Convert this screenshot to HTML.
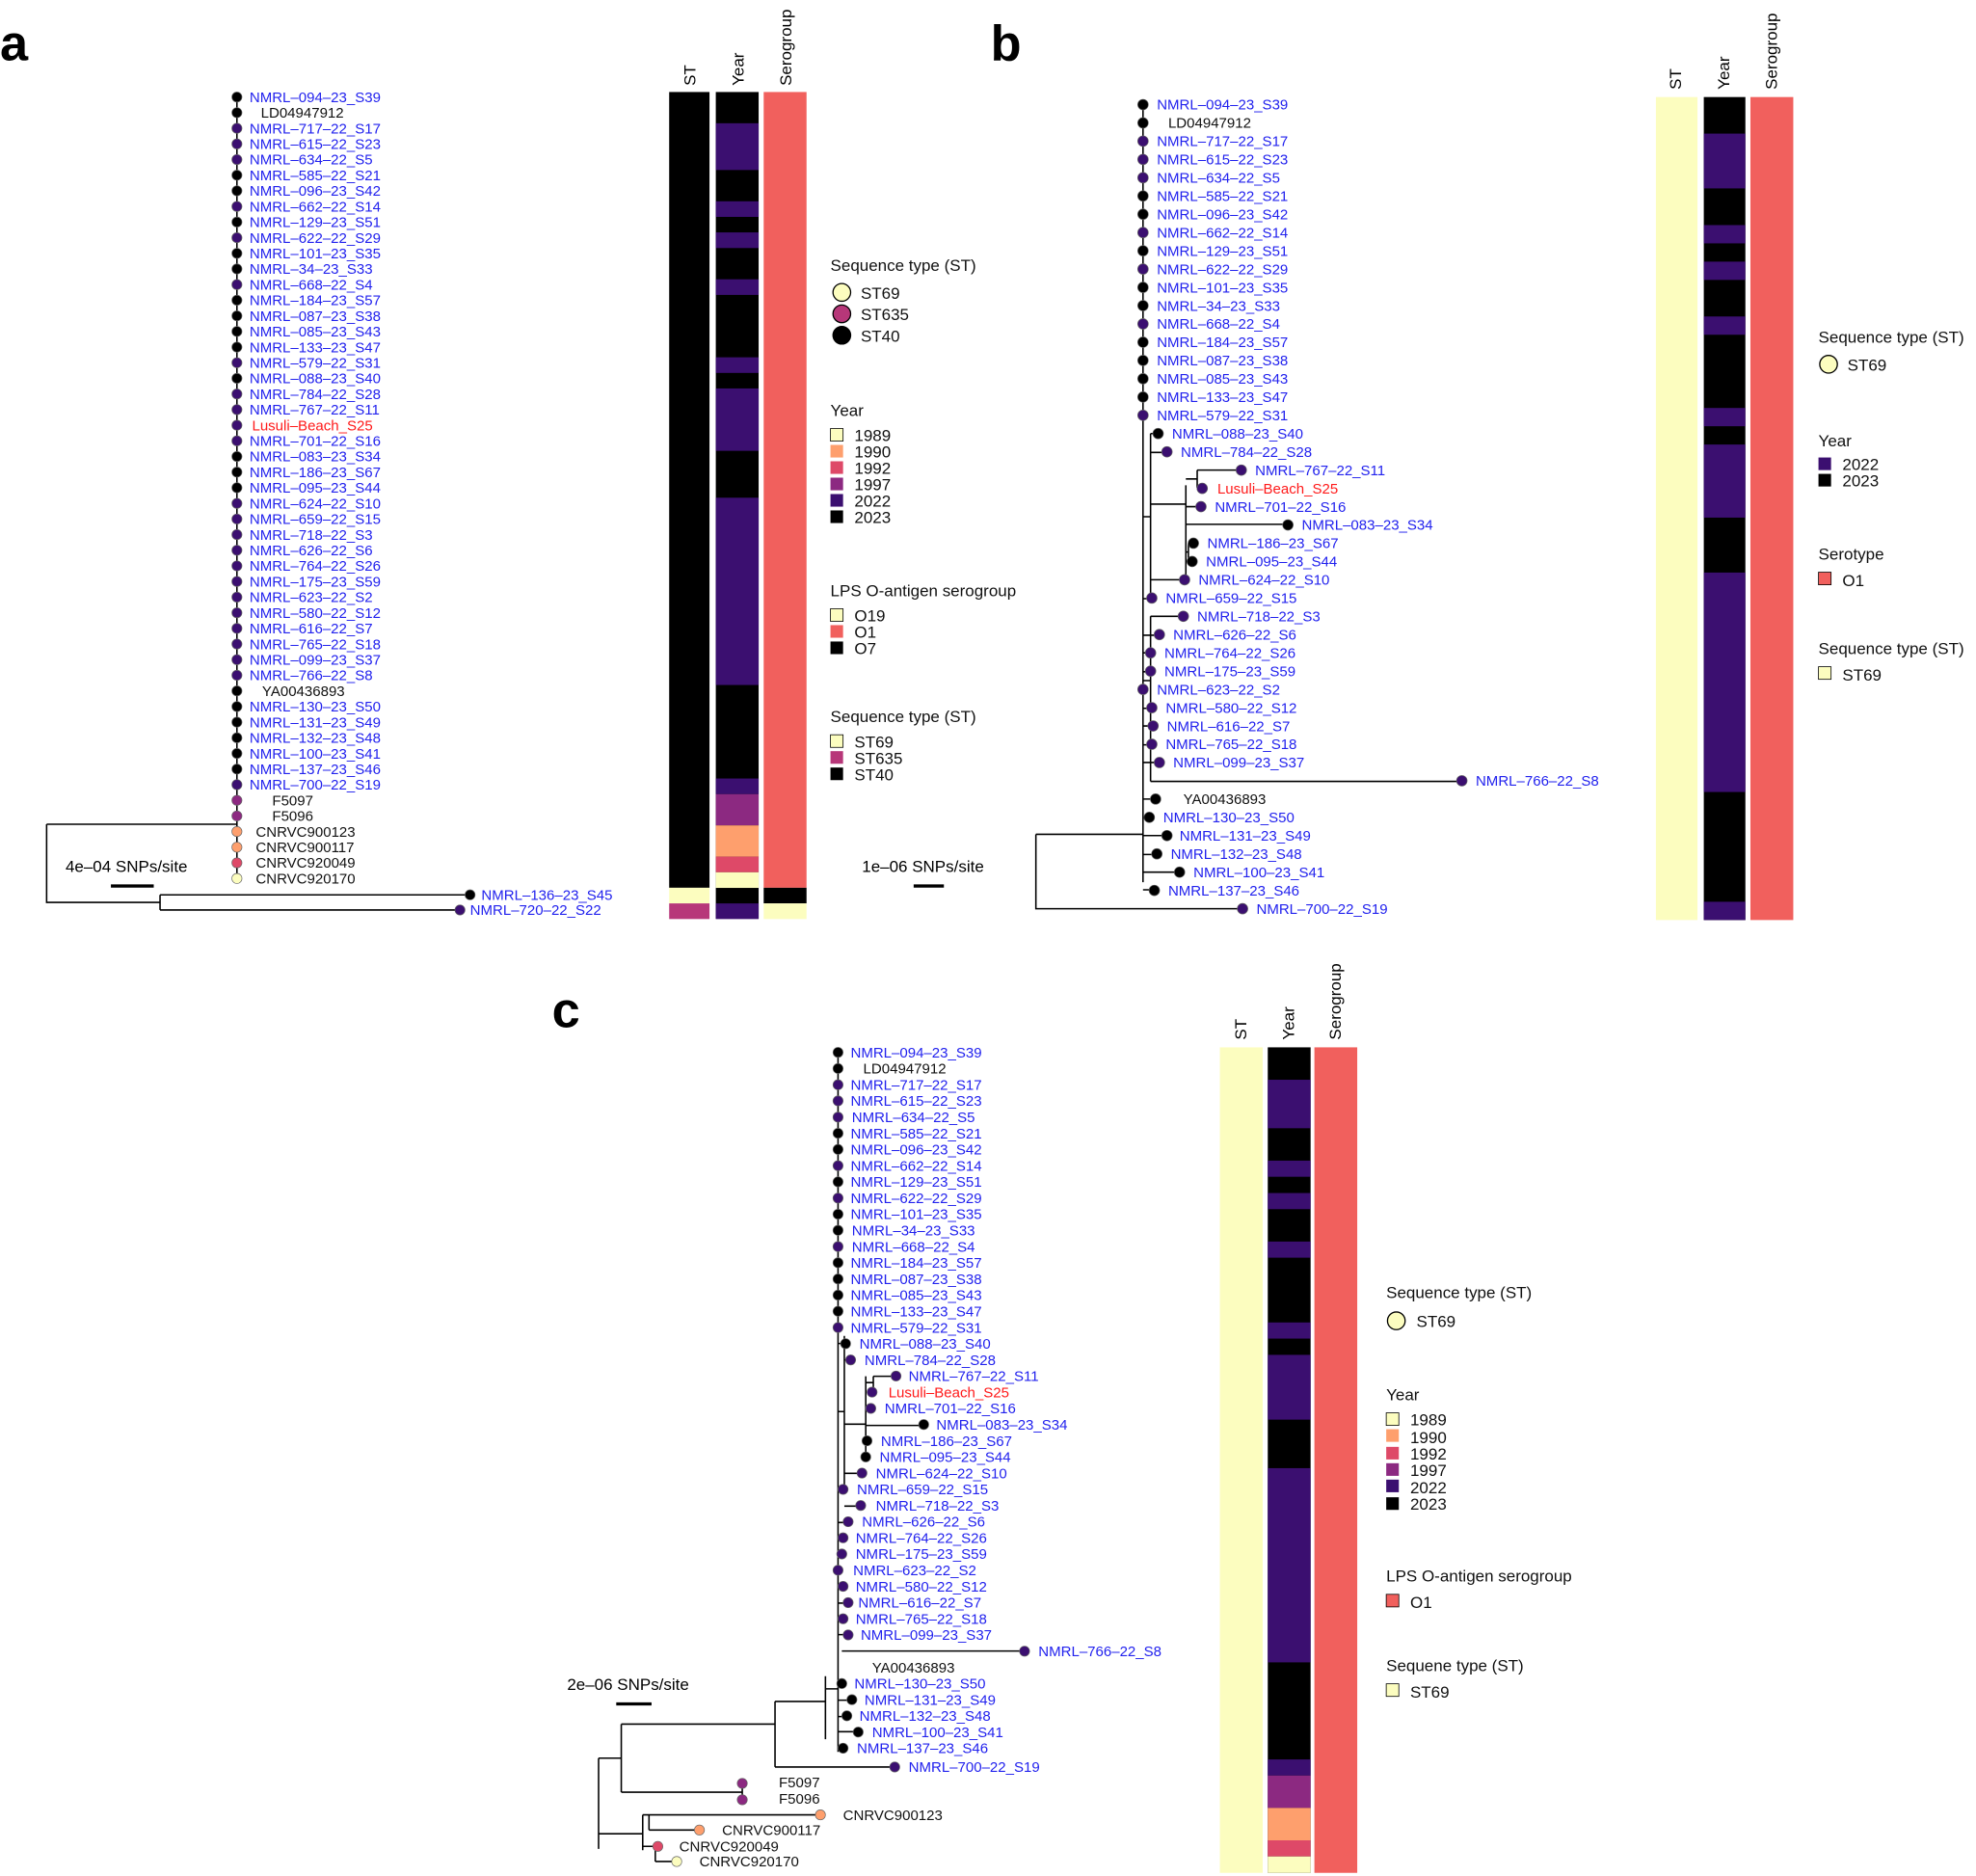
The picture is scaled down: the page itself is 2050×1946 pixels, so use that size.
<!DOCTYPE html>
<html><head><meta charset="utf-8"><style>
html,body{margin:0;padding:0;background:#fff}
svg{display:block}
text{font-family:"Liberation Sans",Arial,sans-serif}
.b{fill:#2222ee}.r{fill:#ff1a1a}.t{fill:#111}
.p{fill:#3b0f70;stroke:#666;stroke-width:.5}.k{fill:#000;stroke:#666;stroke-width:.5}
.m{fill:#8c2981;stroke:#666;stroke-width:.5}.o{fill:#fe9f6d;stroke:#666;stroke-width:.5}
.q{fill:#de4968;stroke:#666;stroke-width:.5}.y{fill:#fcfdbf;stroke:#666;stroke-width:.5}
.l{stroke:#000;stroke-width:1.2;fill:none}
.lg{font-size:13px;fill:#111}
</style></head><body>
<svg width="2050" height="1946" viewBox="0 0 1568 1488.5" preserveAspectRatio="none">
<rect width="1568" height="1489" fill="#fff"/>
<!-- panel letters -->
<text x="0" y="48" font-size="40" font-weight="bold">a</text>
<text x="786" y="48" font-size="40" font-weight="bold">b</text>
<text x="438" y="815" font-size="40" font-weight="bold">c</text>

<!-- ===== PANEL A ===== -->
<g class="l">
<path d="M188 77V697M37 654V716H127M37 654H188M127 710V722M127 710H373M127 722H365"/>
<path d="M88 703H122" stroke-width="2.5"/>
</g>
<text x="52" y="692" font-size="13">4e–04 SNPs/site</text>
<g>
<circle cx="188" cy="77" r="4" class="k"/><circle cx="188" cy="89.4" r="4" class="k"/><circle cx="188" cy="101.8" r="4" class="p"/><circle cx="188" cy="114.2" r="4" class="p"/><circle cx="188" cy="126.6" r="4" class="p"/><circle cx="188" cy="139" r="4" class="k"/><circle cx="188" cy="151.4" r="4" class="k"/><circle cx="188" cy="163.8" r="4" class="p"/><circle cx="188" cy="176.2" r="4" class="k"/><circle cx="188" cy="188.6" r="4" class="p"/><circle cx="188" cy="201" r="4" class="k"/><circle cx="188" cy="213.4" r="4" class="k"/><circle cx="188" cy="225.8" r="4" class="p"/><circle cx="188" cy="238.2" r="4" class="k"/><circle cx="188" cy="250.6" r="4" class="k"/><circle cx="188" cy="263" r="4" class="k"/><circle cx="188" cy="275.4" r="4" class="k"/><circle cx="188" cy="287.8" r="4" class="p"/><circle cx="188" cy="300.2" r="4" class="k"/><circle cx="188" cy="312.6" r="4" class="p"/><circle cx="188" cy="325" r="4" class="p"/><circle cx="188" cy="337.4" r="4" class="p"/><circle cx="188" cy="349.8" r="4" class="p"/><circle cx="188" cy="362.2" r="4" class="k"/><circle cx="188" cy="374.6" r="4" class="k"/><circle cx="188" cy="387" r="4" class="k"/><circle cx="188" cy="399.4" r="4" class="p"/><circle cx="188" cy="411.8" r="4" class="p"/><circle cx="188" cy="424.2" r="4" class="p"/><circle cx="188" cy="436.6" r="4" class="p"/><circle cx="188" cy="449" r="4" class="p"/><circle cx="188" cy="461.4" r="4" class="p"/><circle cx="188" cy="473.8" r="4" class="p"/><circle cx="188" cy="486.2" r="4" class="p"/><circle cx="188" cy="498.6" r="4" class="p"/><circle cx="188" cy="511" r="4" class="p"/><circle cx="188" cy="523.4" r="4" class="p"/><circle cx="188" cy="535.8" r="4" class="p"/><circle cx="188" cy="548.2" r="4" class="k"/><circle cx="188" cy="560.6" r="4" class="k"/><circle cx="188" cy="573" r="4" class="k"/><circle cx="188" cy="585.4" r="4" class="k"/><circle cx="188" cy="597.8" r="4" class="k"/><circle cx="188" cy="610.2" r="4" class="k"/><circle cx="188" cy="622.6" r="4" class="p"/><circle cx="188" cy="635" r="4" class="m"/><circle cx="188" cy="647.4" r="4" class="m"/><circle cx="188" cy="659.8" r="4" class="o"/><circle cx="188" cy="672.2" r="4" class="o"/><circle cx="188" cy="684.6" r="4" class="q"/><circle cx="188" cy="697" r="4" class="y"/><circle cx="373" cy="710" r="4" class="k"/><circle cx="365" cy="722" r="4" class="p"/>
</g>
<g font-size="11.5">
<text x="198" y="81" class="b">NMRL–094–23_S39</text><text x="207" y="93.4" class="t">LD04947912</text><text x="198" y="105.8" class="b">NMRL–717–22_S17</text><text x="198" y="118.2" class="b">NMRL–615–22_S23</text><text x="198" y="130.6" class="b">NMRL–634–22_S5</text><text x="198" y="143" class="b">NMRL–585–22_S21</text><text x="198" y="155.4" class="b">NMRL–096–23_S42</text><text x="198" y="167.8" class="b">NMRL–662–22_S14</text><text x="198" y="180.2" class="b">NMRL–129–23_S51</text><text x="198" y="192.6" class="b">NMRL–622–22_S29</text><text x="198" y="205" class="b">NMRL–101–23_S35</text><text x="198" y="217.4" class="b">NMRL–34–23_S33</text><text x="198" y="229.8" class="b">NMRL–668–22_S4</text><text x="198" y="242.2" class="b">NMRL–184–23_S57</text><text x="198" y="254.6" class="b">NMRL–087–23_S38</text><text x="198" y="267" class="b">NMRL–085–23_S43</text><text x="198" y="279.4" class="b">NMRL–133–23_S47</text><text x="198" y="291.8" class="b">NMRL–579–22_S31</text><text x="198" y="304.2" class="b">NMRL–088–23_S40</text><text x="198" y="316.6" class="b">NMRL–784–22_S28</text><text x="198" y="329" class="b">NMRL–767–22_S11</text><text x="200" y="341.4" class="r">Lusuli–Beach_S25</text><text x="198" y="353.8" class="b">NMRL–701–22_S16</text><text x="198" y="366.2" class="b">NMRL–083–23_S34</text><text x="198" y="378.6" class="b">NMRL–186–23_S67</text><text x="198" y="391" class="b">NMRL–095–23_S44</text><text x="198" y="403.4" class="b">NMRL–624–22_S10</text><text x="198" y="415.8" class="b">NMRL–659–22_S15</text><text x="198" y="428.2" class="b">NMRL–718–22_S3</text><text x="198" y="440.6" class="b">NMRL–626–22_S6</text><text x="198" y="453" class="b">NMRL–764–22_S26</text><text x="198" y="465.4" class="b">NMRL–175–23_S59</text><text x="198" y="477.8" class="b">NMRL–623–22_S2</text><text x="198" y="490.2" class="b">NMRL–580–22_S12</text><text x="198" y="502.6" class="b">NMRL–616–22_S7</text><text x="198" y="515" class="b">NMRL–765–22_S18</text><text x="198" y="527.4" class="b">NMRL–099–23_S37</text><text x="198" y="539.8" class="b">NMRL–766–22_S8</text><text x="208" y="552.2" class="t">YA00436893</text><text x="198" y="564.6" class="b">NMRL–130–23_S50</text><text x="198" y="577" class="b">NMRL–131–23_S49</text><text x="198" y="589.4" class="b">NMRL–132–23_S48</text><text x="198" y="601.8" class="b">NMRL–100–23_S41</text><text x="198" y="614.2" class="b">NMRL–137–23_S46</text><text x="198" y="626.6" class="b">NMRL–700–22_S19</text><text x="216" y="639" class="t">F5097</text><text x="216" y="651.4" class="t">F5096</text><text x="203" y="663.8" class="t">CNRVC900123</text><text x="203" y="676.2" class="t">CNRVC900117</text><text x="203" y="688.6" class="t">CNRVC920049</text><text x="203" y="701" class="t">CNRVC920170</text><text x="382" y="714" class="b">NMRL–136–23_S45</text><text x="373" y="726" class="b">NMRL–720–22_S22</text>
</g>
<!-- heatmap a -->
<rect x="531" y="73" width="32" height="631.4" fill="#000"/>
<rect x="531" y="704.4" width="32" height="12.4" fill="#fcfdbf"/>
<rect x="531" y="716.8" width="32" height="12.4" fill="#b73779"/>
<rect x="568" y="73" width="34" height="656" fill="#000"/>
<g fill="#3b0f70">
<rect x="568" y="97.8" width="34" height="37.1"/><rect x="568" y="159.7" width="34" height="12.4"/><rect x="568" y="184.4" width="34" height="12.4"/><rect x="568" y="221.6" width="34" height="12.4"/><rect x="568" y="283.5" width="34" height="12.4"/><rect x="568" y="308.2" width="34" height="49.5"/><rect x="568" y="394.9" width="34" height="148.6"/><rect x="568" y="617.7" width="34" height="12.4"/><rect x="568" y="716.8" width="34" height="12.4"/>
</g>
<rect x="568" y="630.1" width="34" height="24.8" fill="#8c2981"/>
<rect x="568" y="654.9" width="34" height="24.8" fill="#fe9f6d"/>
<rect x="568" y="679.7" width="34" height="12.4" fill="#de4968"/>
<rect x="568" y="692.1" width="34" height="12.4" fill="#fcfdbf"/>
<rect x="606" y="73" width="34" height="631.4" fill="#f1605d"/>
<rect x="606" y="704.4" width="34" height="12.4" fill="#000"/>
<rect x="606" y="716.8" width="34" height="12.4" fill="#fcfdbf"/>
<g font-size="13">
<text transform="translate(552,68) rotate(-90)">ST</text>
<text transform="translate(590,68) rotate(-90)">Year</text>
<text transform="translate(628,68) rotate(-90)">Serogroup</text>
</g>
<!-- legend a -->
<g class="lg">
<text x="659" y="215">Sequence type (ST)</text>
<circle cx="668" cy="232" r="7" fill="#fcfdbf" stroke="#000"/><text x="683" y="237">ST69</text>
<circle cx="668" cy="249" r="7" fill="#b73779" stroke="#000"/><text x="683" y="254">ST635</text>
<circle cx="668" cy="266" r="7" fill="#000" stroke="#000"/><text x="683" y="271">ST40</text>
<text x="659" y="330">Year</text>
<rect x="659" y="340" width="10" height="10" fill="#fcfdbf" stroke="#000" stroke-width=".6"/><text x="678" y="350">1989</text>
<rect x="659" y="353" width="10" height="10" fill="#fe9f6d"/><text x="678" y="363">1990</text>
<rect x="659" y="366" width="10" height="10" fill="#de4968"/><text x="678" y="376">1992</text>
<rect x="659" y="379" width="10" height="10" fill="#8c2981"/><text x="678" y="389">1997</text>
<rect x="659" y="392" width="10" height="10" fill="#3b0f70"/><text x="678" y="402">2022</text>
<rect x="659" y="405" width="10" height="10" fill="#000"/><text x="678" y="415">2023</text>
<text x="659" y="473">LPS O-antigen serogroup</text>
<rect x="659" y="483" width="10" height="10" fill="#fcfdbf" stroke="#000" stroke-width=".6"/><text x="678" y="493">O19</text>
<rect x="659" y="496" width="10" height="10" fill="#f1605d"/><text x="678" y="506">O1</text>
<rect x="659" y="509" width="10" height="10" fill="#000"/><text x="678" y="519">O7</text>
<text x="659" y="573">Sequence type (ST)</text>
<rect x="659" y="583" width="10" height="10" fill="#fcfdbf" stroke="#000" stroke-width=".6"/><text x="678" y="593">ST69</text>
<rect x="659" y="596" width="10" height="10" fill="#b73779"/><text x="678" y="606">ST635</text>
<rect x="659" y="609" width="10" height="10" fill="#000"/><text x="678" y="619">ST40</text>
</g>

<!-- ===== PANEL B ===== -->
<g class="l">
<path d="M907 83V700M822 662V721H986M822 662H907"/>
<path d="M913 344V475M907 410H913M913 344H919M913 359H926"/>
<path d="M941 385V460M913 400H941M950 373V387M941 380H950M950 373H985M950 387H954M941 402H953M941 416H1022M943 431V445M941 438H943M943 431H947M943 445H946M913 460H940"/>
<path d="M907 475H914M913 489V620M907 540H913M913 489H939M907 504H920M907 518H913M907 533H913M907 562H914M907 576H915M907 591H914M907 605H920M913 620H1160M907 634H917M907 649H912M907 663H926M907 678H918M907 692H936M907 706H916"/>
<path d="M725 703H749" stroke-width="2.5"/>
</g>
<text x="684" y="692" font-size="13">1e–06 SNPs/site</text>
<g>
<circle cx="907" cy="83" r="4.2" class="k"/><circle cx="907" cy="97.5" r="4.2" class="k"/><circle cx="907" cy="112" r="4.2" class="p"/><circle cx="907" cy="126.5" r="4.2" class="p"/><circle cx="907" cy="141" r="4.2" class="p"/><circle cx="907" cy="155.5" r="4.2" class="k"/><circle cx="907" cy="170" r="4.2" class="k"/><circle cx="907" cy="184.5" r="4.2" class="p"/><circle cx="907" cy="199" r="4.2" class="k"/><circle cx="907" cy="213.5" r="4.2" class="p"/><circle cx="907" cy="228" r="4.2" class="k"/><circle cx="907" cy="242.5" r="4.2" class="k"/><circle cx="907" cy="257" r="4.2" class="p"/><circle cx="907" cy="271.5" r="4.2" class="k"/><circle cx="907" cy="286" r="4.2" class="k"/><circle cx="907" cy="300.5" r="4.2" class="k"/><circle cx="907" cy="315" r="4.2" class="k"/><circle cx="907" cy="329.5" r="4.2" class="p"/><circle cx="919" cy="344" r="4.2" class="k"/><circle cx="926" cy="358.5" r="4.2" class="p"/><circle cx="985" cy="373" r="4.2" class="p"/><circle cx="954" cy="387.5" r="4.2" class="p"/><circle cx="953" cy="402" r="4.2" class="p"/><circle cx="1022" cy="416.5" r="4.2" class="k"/><circle cx="947" cy="431" r="4.2" class="k"/><circle cx="946" cy="445.5" r="4.2" class="k"/><circle cx="940" cy="460" r="4.2" class="p"/><circle cx="914" cy="474.5" r="4.2" class="p"/><circle cx="939" cy="489" r="4.2" class="p"/><circle cx="920" cy="503.5" r="4.2" class="p"/><circle cx="913" cy="518" r="4.2" class="p"/><circle cx="913" cy="532.5" r="4.2" class="p"/><circle cx="907" cy="547" r="4.2" class="p"/><circle cx="914" cy="561.5" r="4.2" class="p"/><circle cx="915" cy="576" r="4.2" class="p"/><circle cx="914" cy="590.5" r="4.2" class="p"/><circle cx="920" cy="605" r="4.2" class="p"/><circle cx="1160" cy="619.5" r="4.2" class="p"/><circle cx="917" cy="634" r="4.2" class="k"/><circle cx="912" cy="648.5" r="4.2" class="k"/><circle cx="926" cy="663" r="4.2" class="k"/><circle cx="918" cy="677.5" r="4.2" class="k"/><circle cx="936" cy="692" r="4.2" class="k"/><circle cx="916" cy="706.5" r="4.2" class="k"/><circle cx="986" cy="721" r="4.2" class="p"/>
</g>
<g font-size="11.5">
<text x="918" y="87" class="b">NMRL–094–23_S39</text><text x="927" y="101.5" class="t">LD04947912</text><text x="918" y="116" class="b">NMRL–717–22_S17</text><text x="918" y="130.5" class="b">NMRL–615–22_S23</text><text x="918" y="145" class="b">NMRL–634–22_S5</text><text x="918" y="159.5" class="b">NMRL–585–22_S21</text><text x="918" y="174" class="b">NMRL–096–23_S42</text><text x="918" y="188.5" class="b">NMRL–662–22_S14</text><text x="918" y="203" class="b">NMRL–129–23_S51</text><text x="918" y="217.5" class="b">NMRL–622–22_S29</text><text x="918" y="232" class="b">NMRL–101–23_S35</text><text x="918" y="246.5" class="b">NMRL–34–23_S33</text><text x="918" y="261" class="b">NMRL–668–22_S4</text><text x="918" y="275.5" class="b">NMRL–184–23_S57</text><text x="918" y="290" class="b">NMRL–087–23_S38</text><text x="918" y="304.5" class="b">NMRL–085–23_S43</text><text x="918" y="319" class="b">NMRL–133–23_S47</text><text x="918" y="333.5" class="b">NMRL–579–22_S31</text><text x="930" y="348" class="b">NMRL–088–23_S40</text><text x="937" y="362.5" class="b">NMRL–784–22_S28</text><text x="996" y="377" class="b">NMRL–767–22_S11</text><text x="966" y="391.5" class="r">Lusuli–Beach_S25</text><text x="964" y="406" class="b">NMRL–701–22_S16</text><text x="1033" y="420.5" class="b">NMRL–083–23_S34</text><text x="958" y="435" class="b">NMRL–186–23_S67</text><text x="957" y="449.5" class="b">NMRL–095–23_S44</text><text x="951" y="464" class="b">NMRL–624–22_S10</text><text x="925" y="478.5" class="b">NMRL–659–22_S15</text><text x="950" y="493" class="b">NMRL–718–22_S3</text><text x="931" y="507.5" class="b">NMRL–626–22_S6</text><text x="924" y="522" class="b">NMRL–764–22_S26</text><text x="924" y="536.5" class="b">NMRL–175–23_S59</text><text x="918" y="551" class="b">NMRL–623–22_S2</text><text x="925" y="565.5" class="b">NMRL–580–22_S12</text><text x="926" y="580" class="b">NMRL–616–22_S7</text><text x="925" y="594.5" class="b">NMRL–765–22_S18</text><text x="931" y="609" class="b">NMRL–099–23_S37</text><text x="1171" y="623.5" class="b">NMRL–766–22_S8</text><text x="939" y="638" class="t">YA00436893</text><text x="923" y="652.5" class="b">NMRL–130–23_S50</text><text x="936" y="667" class="b">NMRL–131–23_S49</text><text x="929" y="681.5" class="b">NMRL–132–23_S48</text><text x="947" y="696" class="b">NMRL–100–23_S41</text><text x="927" y="710.5" class="b">NMRL–137–23_S46</text><text x="997" y="725" class="b">NMRL–700–22_S19</text>
</g>
<rect x="1314" y="77" width="33" height="653" fill="#fcfdbf"/>
<rect x="1352" y="77" width="33" height="653" fill="#000"/>
<g fill="#3b0f70">
<rect x="1352" y="106" width="33" height="43.5"/><rect x="1352" y="178.6" width="33" height="14.5"/><rect x="1352" y="207.6" width="33" height="14.5"/><rect x="1352" y="251.1" width="33" height="14.5"/><rect x="1352" y="323.7" width="33" height="14.5"/><rect x="1352" y="352.7" width="33" height="58"/><rect x="1352" y="454.3" width="33" height="174.1"/><rect x="1352" y="715.5" width="33" height="14.5"/>
</g>
<rect x="1389" y="77" width="34" height="653" fill="#f1605d"/>
<g font-size="13">
<text transform="translate(1334,71) rotate(-90)">ST</text>
<text transform="translate(1372,71) rotate(-90)">Year</text>
<text transform="translate(1410,71) rotate(-90)">Serogroup</text>
</g>
<g class="lg">
<text x="1443" y="272">Sequence type (ST)</text>
<circle cx="1451" cy="289" r="7" fill="#fcfdbf" stroke="#000"/><text x="1466" y="294">ST69</text>
<text x="1443" y="354">Year</text>
<rect x="1443" y="363" width="10" height="10" fill="#3b0f70"/><text x="1462" y="373">2022</text>
<rect x="1443" y="376" width="10" height="10" fill="#000"/><text x="1462" y="386">2023</text>
<text x="1443" y="444">Serotype</text>
<rect x="1443" y="454" width="10" height="10" fill="#f1605d" stroke="#000" stroke-width=".6"/><text x="1462" y="465">O1</text>
<text x="1443" y="519">Sequence type (ST)</text>
<rect x="1443" y="529" width="10" height="10" fill="#fcfdbf" stroke="#000" stroke-width=".6"/><text x="1462" y="540">ST69</text>
</g>

<!-- ===== PANEL C ===== -->
<g class="l">
<path d="M665 835V1390M655 1330V1380M655 1340H665M615 1350V1402M615 1350H655M615 1402H710M493 1368V1422M493 1368H615M493 1422H589M589 1415V1428M475 1395V1467M475 1395H493M475 1455H510M510 1440V1468M510 1440H651M515 1440V1452M515 1452H555M510 1465H522M520 1465V1477M520 1477H537"/>
<path d="M665 1066H671M670 1060V1180M665 1120H670M670 1079H675M687 1092V1160M670 1130H687M693 1092V1105M687 1097H693M693 1092H711M693 1105H692M687 1118H691M687 1131H733M687 1143H688M687 1156H687M670 1169H684M665 1182H669M670 1195H683M665 1208H673M665 1221H669M665 1233H668M665 1259H669M665 1272H673M665 1285H669M665 1297H673M668 1310H813M665 1336H668M665 1349H676M665 1362H672M665 1374H681M665 1387H669"/>
<path d="M489 1352H517" stroke-width="2.5"/>
</g>
<text x="450" y="1341" font-size="13">2e–06 SNPs/site</text>
<g>
<circle cx="665" cy="835" r="4" class="k"/><circle cx="665" cy="847.8" r="4" class="k"/><circle cx="665" cy="860.7" r="4" class="p"/><circle cx="665" cy="873.5" r="4" class="p"/><circle cx="665" cy="886.4" r="4" class="p"/><circle cx="665" cy="899.2" r="4" class="k"/><circle cx="665" cy="912" r="4" class="k"/><circle cx="665" cy="924.9" r="4" class="p"/><circle cx="665" cy="937.7" r="4" class="k"/><circle cx="665" cy="950.6" r="4" class="p"/><circle cx="665" cy="963.4" r="4" class="k"/><circle cx="665" cy="976.2" r="4" class="k"/><circle cx="665" cy="989.1" r="4" class="p"/><circle cx="665" cy="1001.9" r="4" class="k"/><circle cx="665" cy="1014.8" r="4" class="k"/><circle cx="665" cy="1027.6" r="4" class="k"/><circle cx="665" cy="1040.4" r="4" class="k"/><circle cx="665" cy="1053.3" r="4" class="p"/><circle cx="671" cy="1066.1" r="4" class="k"/><circle cx="675" cy="1079" r="4" class="p"/><circle cx="711" cy="1091.8" r="4" class="p"/><circle cx="692" cy="1104.6" r="4" class="p"/><circle cx="691" cy="1117.5" r="4" class="p"/><circle cx="733" cy="1130.3" r="4" class="k"/><circle cx="688" cy="1143.2" r="4" class="k"/><circle cx="687" cy="1156" r="4" class="k"/><circle cx="684" cy="1168.8" r="4" class="p"/><circle cx="669" cy="1181.7" r="4" class="p"/><circle cx="683" cy="1194.5" r="4" class="p"/><circle cx="673" cy="1207.4" r="4" class="p"/><circle cx="669" cy="1220.2" r="4" class="p"/><circle cx="668" cy="1233" r="4" class="p"/><circle cx="665" cy="1245.9" r="4" class="p"/><circle cx="669" cy="1258.7" r="4" class="p"/><circle cx="673" cy="1271.6" r="4" class="p"/><circle cx="669" cy="1284.4" r="4" class="p"/><circle cx="673" cy="1297.2" r="4" class="p"/><circle cx="813" cy="1310.1" r="4" class="p"/><circle cx="668" cy="1335.8" r="4" class="k"/><circle cx="676" cy="1348.6" r="4" class="k"/><circle cx="672" cy="1361.4" r="4" class="k"/><circle cx="681" cy="1374.3" r="4" class="k"/><circle cx="669" cy="1387.1" r="4" class="k"/><circle cx="710" cy="1402" r="4" class="p"/><circle cx="589" cy="1415" r="4" class="m"/><circle cx="589" cy="1428" r="4" class="m"/><circle cx="651" cy="1440" r="4" class="o"/><circle cx="555" cy="1452" r="4" class="o"/><circle cx="522" cy="1465" r="4" class="q"/><circle cx="537" cy="1477" r="4" class="y"/>
</g>
<g font-size="11.5">
<text x="675" y="839" class="b">NMRL–094–23_S39</text><text x="685" y="851.8" class="t">LD04947912</text><text x="675" y="864.7" class="b">NMRL–717–22_S17</text><text x="675" y="877.5" class="b">NMRL–615–22_S23</text><text x="676" y="890.4" class="b">NMRL–634–22_S5</text><text x="675" y="903.2" class="b">NMRL–585–22_S21</text><text x="675" y="916" class="b">NMRL–096–23_S42</text><text x="675" y="928.9" class="b">NMRL–662–22_S14</text><text x="675" y="941.7" class="b">NMRL–129–23_S51</text><text x="675" y="954.6" class="b">NMRL–622–22_S29</text><text x="675" y="967.4" class="b">NMRL–101–23_S35</text><text x="676" y="980.2" class="b">NMRL–34–23_S33</text><text x="676" y="993.1" class="b">NMRL–668–22_S4</text><text x="675" y="1005.9" class="b">NMRL–184–23_S57</text><text x="675" y="1018.8" class="b">NMRL–087–23_S38</text><text x="675" y="1031.6" class="b">NMRL–085–23_S43</text><text x="675" y="1044.4" class="b">NMRL–133–23_S47</text><text x="675" y="1057.3" class="b">NMRL–579–22_S31</text><text x="682" y="1070.1" class="b">NMRL–088–23_S40</text><text x="686" y="1083" class="b">NMRL–784–22_S28</text><text x="721" y="1095.8" class="b">NMRL–767–22_S11</text><text x="705" y="1108.6" class="r">Lusuli–Beach_S25</text><text x="702" y="1121.5" class="b">NMRL–701–22_S16</text><text x="743" y="1134.3" class="b">NMRL–083–23_S34</text><text x="699" y="1147.2" class="b">NMRL–186–23_S67</text><text x="698" y="1160" class="b">NMRL–095–23_S44</text><text x="695" y="1172.8" class="b">NMRL–624–22_S10</text><text x="680" y="1185.7" class="b">NMRL–659–22_S15</text><text x="695" y="1198.5" class="b">NMRL–718–22_S3</text><text x="684" y="1211.4" class="b">NMRL–626–22_S6</text><text x="679" y="1224.2" class="b">NMRL–764–22_S26</text><text x="679" y="1237" class="b">NMRL–175–23_S59</text><text x="677" y="1249.9" class="b">NMRL–623–22_S2</text><text x="679" y="1262.7" class="b">NMRL–580–22_S12</text><text x="681" y="1275.6" class="b">NMRL–616–22_S7</text><text x="679" y="1288.4" class="b">NMRL–765–22_S18</text><text x="683" y="1301.2" class="b">NMRL–099–23_S37</text><text x="824" y="1314.1" class="b">NMRL–766–22_S8</text><text x="692" y="1327" class="t">YA00436893</text><text x="678" y="1339.8" class="b">NMRL–130–23_S50</text><text x="686" y="1352.6" class="b">NMRL–131–23_S49</text><text x="682" y="1365.4" class="b">NMRL–132–23_S48</text><text x="692" y="1378.3" class="b">NMRL–100–23_S41</text><text x="680" y="1391.1" class="b">NMRL–137–23_S46</text><text x="721" y="1406" class="b">NMRL–700–22_S19</text><text x="618" y="1418" class="t">F5097</text><text x="618" y="1431" class="t">F5096</text><text x="669" y="1444" class="t">CNRVC900123</text><text x="573" y="1456" class="t">CNRVC900117</text><text x="539" y="1469" class="t">CNRVC920049</text><text x="555" y="1481" class="t">CNRVC920170</text>
</g>
<rect x="968" y="831" width="34" height="655" fill="#fcfdbf"/>
<rect x="1006" y="831" width="34" height="655" fill="#000"/>
<g fill="#3b0f70">
<rect x="1006" y="856.7" width="34" height="38.5"/><rect x="1006" y="920.9" width="34" height="12.8"/><rect x="1006" y="946.6" width="34" height="12.8"/><rect x="1006" y="985.1" width="34" height="12.8"/><rect x="1006" y="1049.3" width="34" height="12.8"/><rect x="1006" y="1075" width="34" height="51.4"/><rect x="1006" y="1164.9" width="34" height="154.1"/><rect x="1006" y="1396" width="34" height="12.8"/>
</g>
<rect x="1006" y="1408.8" width="34" height="25.7" fill="#8c2981"/>
<rect x="1006" y="1434.5" width="34" height="25.7" fill="#fe9f6d"/>
<rect x="1006" y="1460.2" width="34" height="12.8" fill="#de4968"/>
<rect x="1006" y="1473" width="34" height="13" fill="#fcfdbf"/>
<rect x="1043" y="831" width="34" height="655" fill="#f1605d"/>
<g font-size="13">
<text transform="translate(989,825) rotate(-90)">ST</text>
<text transform="translate(1027,825) rotate(-90)">Year</text>
<text transform="translate(1064,825) rotate(-90)">Serogroup</text>
</g>
<g class="lg">
<text x="1100" y="1030">Sequence type (ST)</text>
<circle cx="1108" cy="1048" r="7" fill="#fcfdbf" stroke="#000"/><text x="1124" y="1053">ST69</text>
<text x="1100" y="1111">Year</text>
<rect x="1100" y="1121" width="10" height="10" fill="#fcfdbf" stroke="#000" stroke-width=".6"/><text x="1119" y="1131">1989</text>
<rect x="1100" y="1134" width="10" height="10" fill="#fe9f6d"/><text x="1119" y="1145">1990</text>
<rect x="1100" y="1148" width="10" height="10" fill="#de4968"/><text x="1119" y="1158">1992</text>
<rect x="1100" y="1161" width="10" height="10" fill="#8c2981"/><text x="1119" y="1171">1997</text>
<rect x="1100" y="1174" width="10" height="10" fill="#3b0f70"/><text x="1119" y="1185">2022</text>
<rect x="1100" y="1188" width="10" height="10" fill="#000"/><text x="1119" y="1198">2023</text>
<text x="1100" y="1255">LPS O-antigen serogroup</text>
<rect x="1100" y="1265" width="10" height="10" fill="#f1605d" stroke="#000" stroke-width=".6"/><text x="1119" y="1276">O1</text>
<text x="1100" y="1326">Sequene type (ST)</text>
<rect x="1100" y="1336" width="10" height="10" fill="#fcfdbf" stroke="#000" stroke-width=".6"/><text x="1119" y="1347">ST69</text>
</g>
</svg>
</body></html>
